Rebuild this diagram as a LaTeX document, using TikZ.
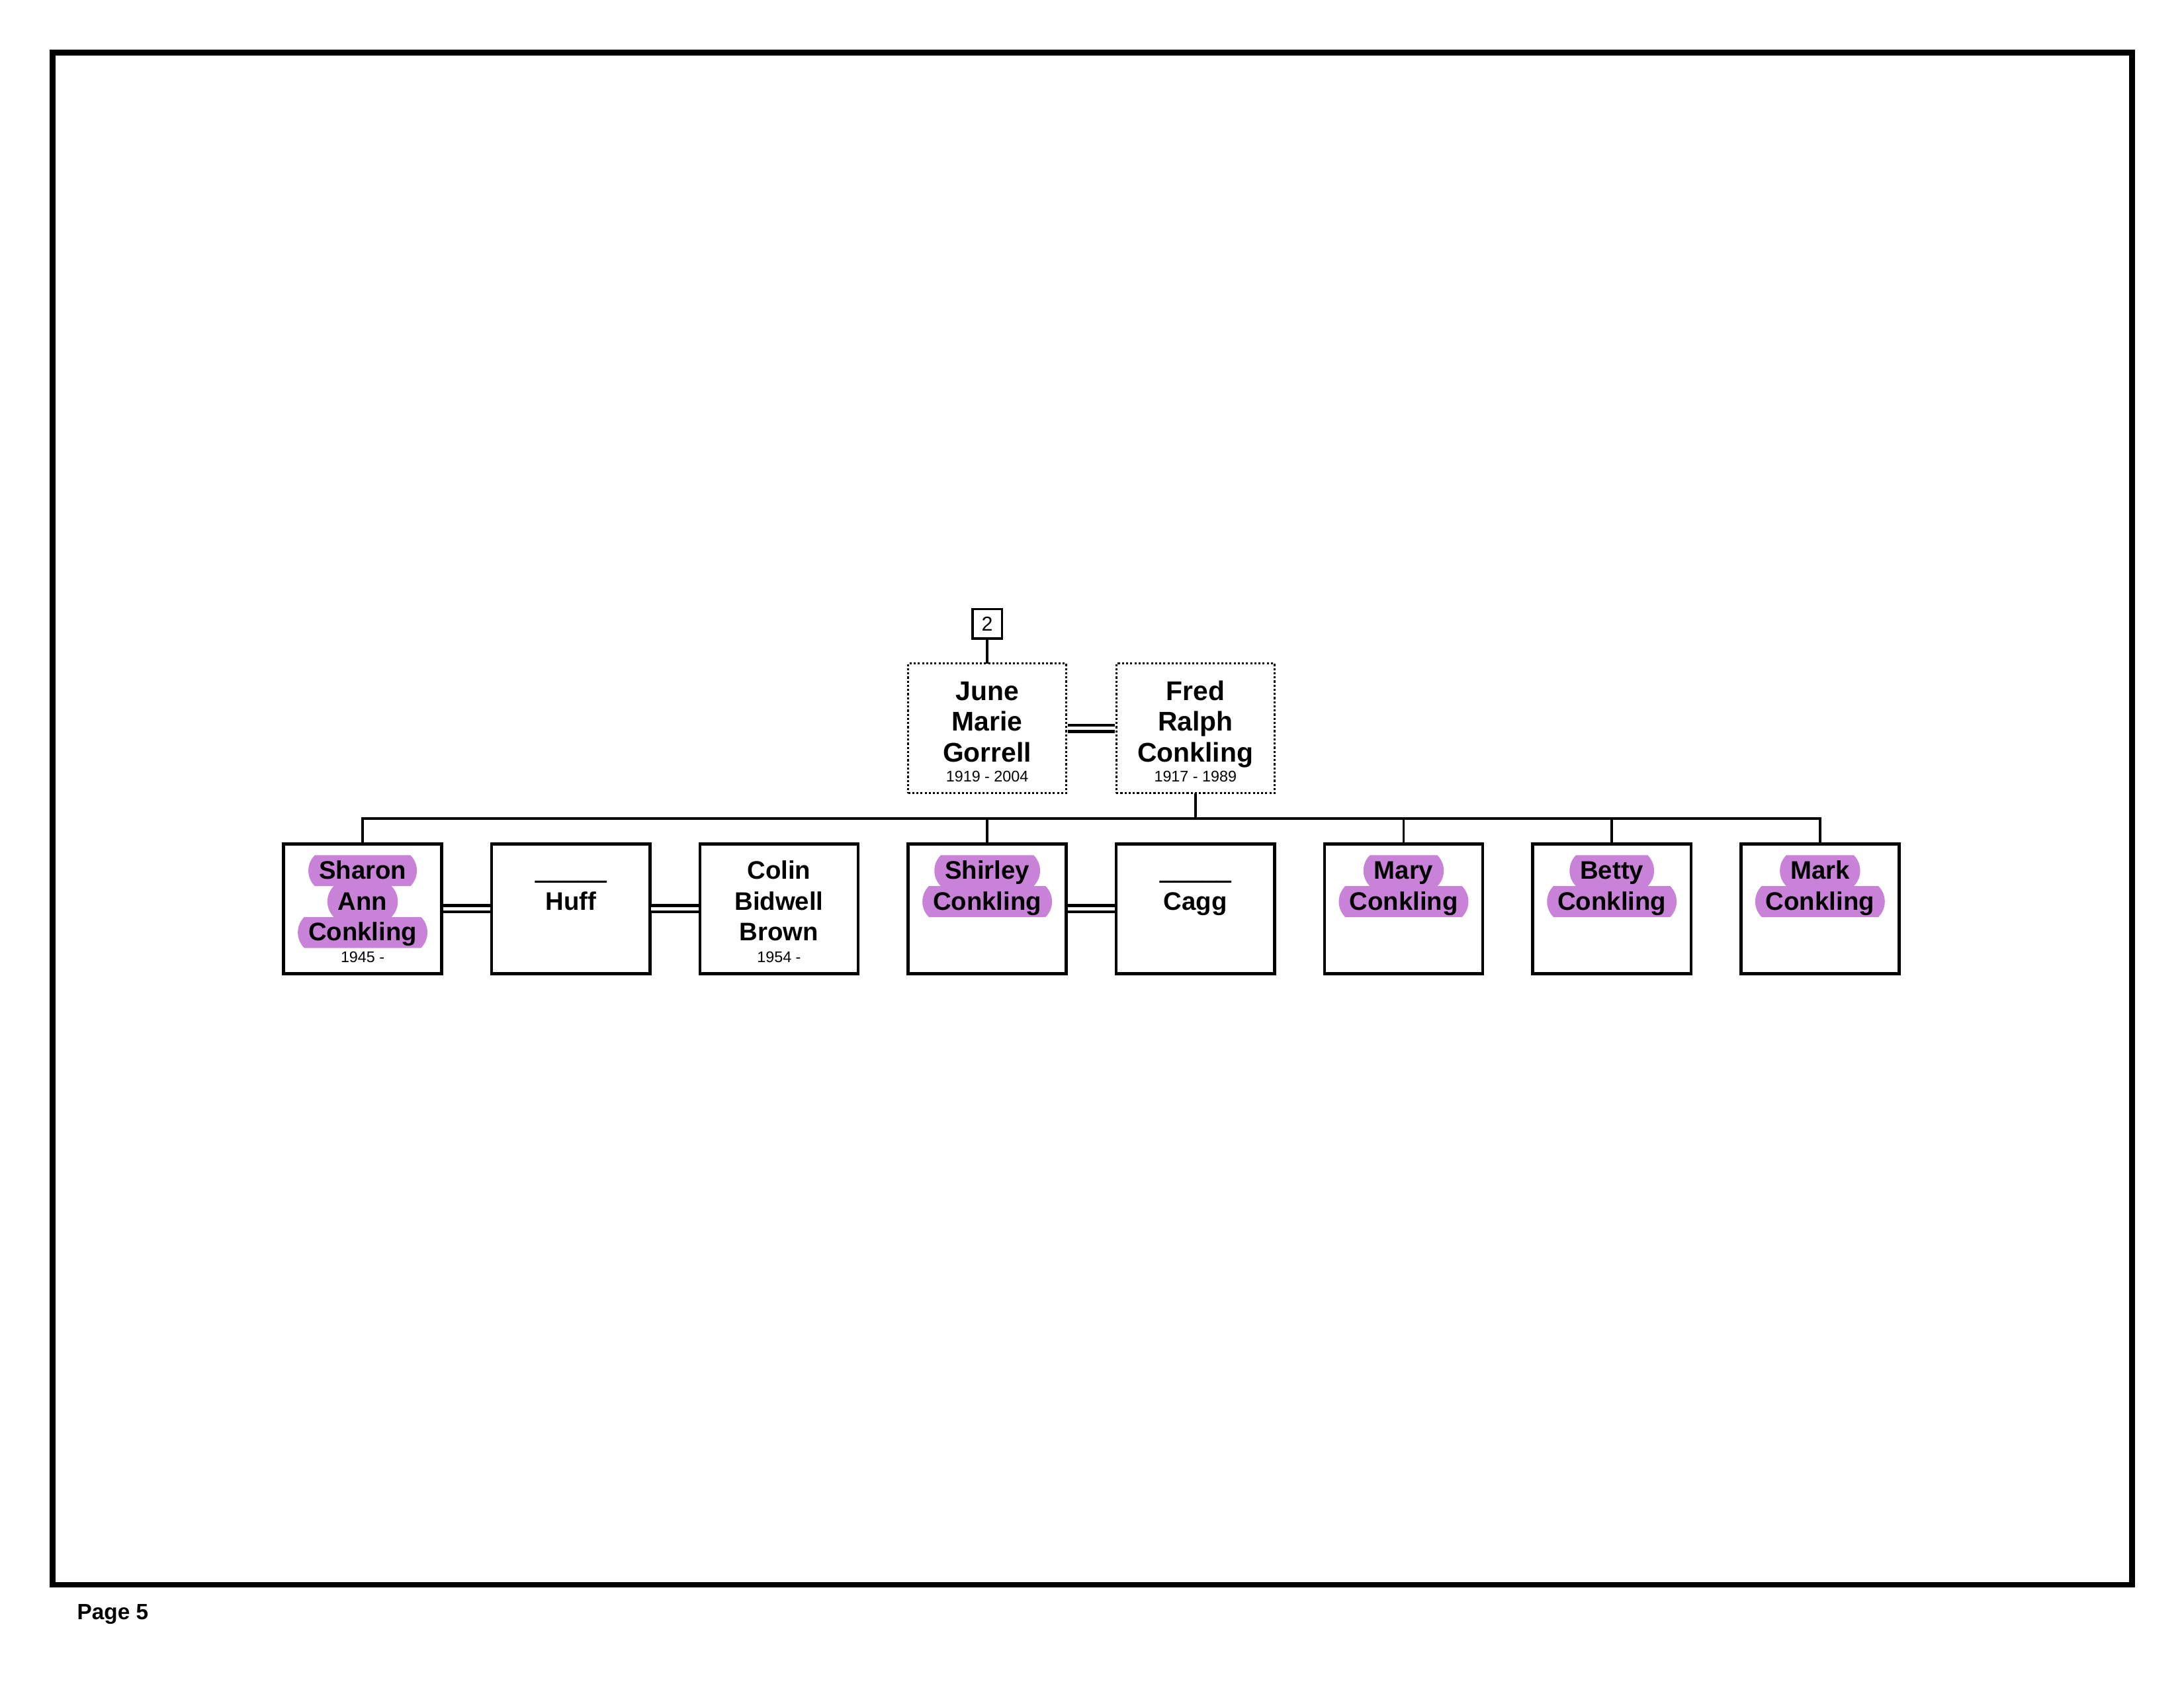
\documentclass[tikz,border=0pt]{standalone}
\usepackage{fontspec}
\setmainfont{Liberation Sans}
\usetikzlibrary{positioning,shapes.misc}
\definecolor{hlpurple}{RGB}{200,130,215}
\tikzstyle{pageframe} = [draw, line width=2.1pt]
\tikzstyle{pagelabel} = [inner sep=0pt, font=\bfseries\fontsize{8}{9.6}\selectfont]
\tikzstyle{personbox} = [draw, line width=1.1pt, rectangle, minimum width=57.4pt,
    minimum height=47pt, inner sep=0pt, outer sep=0pt]
\tikzstyle{parentbox} = [personbox, line width=0.8pt, dash pattern=on 0.75pt off 0.75pt]
\tikzstyle{numbox} = [draw, line width=0.8pt, minimum size=10.6pt, inner sep=0pt,
    outer sep=0pt, font=\fontsize{7.3}{8.8}\selectfont]
\tikzstyle{nameline} = [inner xsep=3.8pt, inner ysep=0pt, outer sep=0pt,
    text height=8.6pt, text depth=2.6pt, font=\bfseries\fontsize{9.2}{11.2}\selectfont]
\tikzstyle{bigline} = [nameline, font=\bfseries\fontsize{9.8}{11.2}\selectfont]
\tikzstyle{hlline} = [nameline, rounded rectangle, rounded rectangle arc length=90,
    inner xsep=1.5pt, fill=hlpurple]
\tikzstyle{blankline} = [nameline, font=\bfseries\fontsize{9.2}{11.2}\selectfont\addfontfeature{FakeBold=4}]
\tikzstyle{dateline} = [inner sep=0pt, outer sep=0pt, text height=4.3pt,
    text depth=0pt, font=\fontsize{5.6}{6.7}\selectfont]
\tikzstyle{link} = [line width=0.9pt]
\tikzstyle{marriage} = [double, double distance=1.2pt, line width=1.1pt,
    shorten <=0.5pt, shorten >=0.5pt]

\begin{document}
\begin{tikzpicture}
\useasboundingbox (0,0) rectangle (792pt,-612pt);
\draw[pageframe] (19.1pt,-19pt) rectangle (773.2pt,-574.6pt);
\node[pagelabel, anchor=base west] (pagenum) at (27.8pt,-587.3pt) {Page 5};

% parents
\node[parentbox] (june) at (358pt,-264.1pt) {};
\node[parentbox, right=18.1pt of june] (fred) {};
\node[numbox, above=9.1pt of june] (ref2) {2};

\node[bigline, below=4.7pt of june.north] (june1) {June};
\node[bigline, below=0pt of june1] (june2) {Marie};
\node[bigline, below=0pt of june2] (june3) {Gorrell};
\node[dateline, below=0.3pt of june3] (junedate) {1919 - 2004};

\node[bigline, below=4.7pt of fred.north] (fred1) {Fred};
\node[bigline, below=0pt of fred1] (fred2) {Ralph};
\node[bigline, below=0pt of fred2] (fred3) {Conkling};
\node[dateline, below=0.3pt of fred3] (freddate) {1917 - 1989};

% children
\node[personbox, below=18.4pt of june] (shirley) {};
\node[personbox, left=18.1pt of shirley] (colin) {};
\node[personbox, left=18.1pt of colin] (huff) {};
\node[personbox, left=18.1pt of huff] (sharon) {};
\node[personbox, right=18.1pt of shirley] (cagg) {};
\node[personbox, right=18.1pt of cagg] (mary) {};
\node[personbox, right=18.1pt of mary] (betty) {};
\node[personbox, right=18.1pt of betty] (mark) {};

\node[hlline, below=4.1pt of sharon.north] (sharon1) {Sharon};
\node[hlline, below=0pt of sharon1] (sharon2) {Ann};
\node[hlline, below=0pt of sharon2] (sharon3) {Conkling};
\node[dateline, below=1pt of sharon3] (sharondate) {1945 -};

\node[blankline, below=4.1pt of huff.north] (huff1) {\_\_\_\_\_};
\node[nameline, below=0pt of huff1] (huff2) {Huff};

\node[nameline, below=4.1pt of colin.north] (colin1) {Colin};
\node[nameline, below=0pt of colin1] (colin2) {Bidwell};
\node[nameline, below=0pt of colin2] (colin3) {Brown};
\node[dateline, below=1pt of colin3] (colindate) {1954 -};

\node[hlline, below=4.1pt of shirley.north] (shirley1) {Shirley};
\node[hlline, below=0pt of shirley1] (shirley2) {Conkling};

\node[blankline, below=4.1pt of cagg.north] (cagg1) {\_\_\_\_\_};
\node[nameline, below=0pt of cagg1] (cagg2) {Cagg};

\node[hlline, below=4.1pt of mary.north] (mary1) {Mary};
\node[hlline, below=0pt of mary1] (mary2) {Conkling};

\node[hlline, below=4.1pt of betty.north] (betty1) {Betty};
\node[hlline, below=0pt of betty1] (betty2) {Conkling};

\node[hlline, below=4.1pt of mark.north] (mark1) {Mark};
\node[hlline, below=0pt of mark1] (mark2) {Conkling};

% lines
\draw[link] (ref2) -- (june);
\draw[marriage] (june) -- (fred);
\draw[marriage] (sharon) -- (huff);
\draw[marriage] (huff) -- (colin);
\draw[marriage] (shirley) -- (cagg);

\coordinate[below=9.2pt of fred.south] (bus);
\draw[link] (fred) -- (bus);
\draw[link] (sharon) |- (bus) -| (mark);
\draw[link] (shirley) -- (shirley |- bus);
\draw[link] (mary) -- (mary |- bus);
\draw[link] (betty) -- (betty |- bus);

\end{tikzpicture}
\end{document}
